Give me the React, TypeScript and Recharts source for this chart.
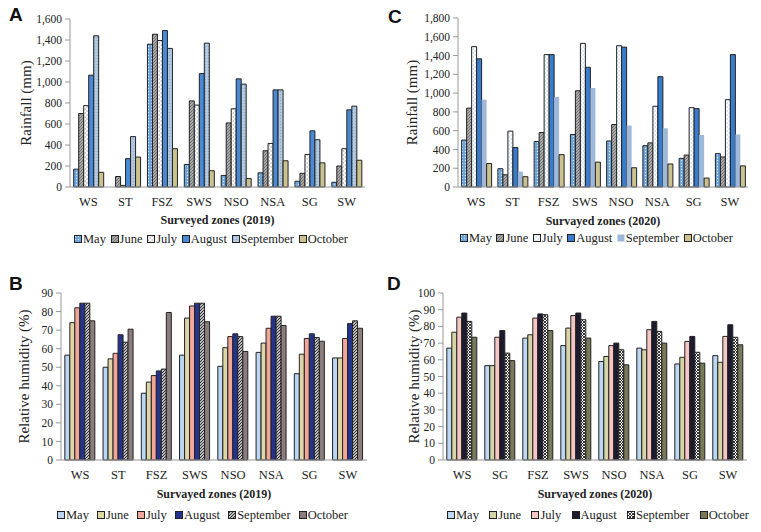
import React from "react";
import { BarChart, Bar, XAxis, YAxis } from "recharts";

const SERIF = "'Liberation Serif', 'Times New Roman', serif";
const SANS = "'Liberation Sans', Arial, sans-serif";

const months = ["May", "June", "July", "August", "September", "October"];
const zones2019 = ["WS", "ST", "FSZ", "SWS", "NSO", "NSA", "SG", "SW"];
const zones2020Rain = ["WS", "ST", "FSZ", "SWS", "NSO", "NSA", "SG", "SW"];
const zones2020Hum = ["WS", "SG", "FSZ", "SWS", "NSO", "NSA", "SG", "SW"];

// A - rainfall 2019 (mm)
const rain2019May = [170, 0, 1360, 215, 110, 135, 55, 45];
const rain2019June = [700, 100, 1455, 820, 610, 345, 130, 200];
const rain2019July = [775, 15, 1395, 780, 745, 415, 310, 365];
const rain2019August = [1065, 270, 1490, 1080, 1030, 925, 535, 735];
const rain2019September = [1440, 480, 1320, 1370, 980, 925, 450, 770];
const rain2019October = [140, 285, 365, 155, 80, 250, 230, 255];

// C - rainfall 2020 (mm)
const rain2020May = [500, 195, 485, 560, 490, 440, 305, 355];
const rain2020June = [840, 130, 580, 1025, 665, 470, 340, 320];
const rain2020July = [1495, 595, 1410, 1530, 1505, 860, 845, 930];
const rain2020August = [1365, 420, 1410, 1275, 1490, 1175, 835, 1410];
const rain2020September = [930, 165, 960, 1055, 655, 625, 555, 560];
const rain2020October = [250, 110, 345, 265, 205, 245, 95, 225];

// B - relative humidity 2019 (%)
const hum2019May = [56.5, 50, 36, 56.5, 50.5, 58, 46.5, 55];
const hum2019June = [74, 54.5, 42, 76.5, 60.5, 63, 57, 55];
const hum2019July = [82, 57.5, 45.5, 83, 66.5, 71, 65.5, 65.5];
const hum2019August = [84.5, 67.5, 48, 84.5, 68, 77.5, 68, 73.5];
const hum2019September = [84.5, 63.5, 49, 84.5, 66.5, 77.5, 66, 75];
const hum2019October = [75, 70.5, 79.5, 74.5, 58.5, 72.5, 64, 71];

// D - relative humidity 2020 (%)
const hum2020May = [67, 56.5, 73, 68.5, 59, 67, 57.5, 62.5];
const hum2020June = [76.5, 56.5, 75, 79, 62, 66, 61.5, 58.5];
const hum2020July = [85.5, 73.5, 85, 86.5, 68.5, 78, 71, 74];
const hum2020August = [88, 77.5, 87.5, 88, 70, 83, 74, 81];
const hum2020September = [83, 64, 87, 84, 66, 77, 64.5, 73.5];
const hum2020October = [73.5, 59.5, 77.5, 73, 57, 70, 58, 69];

const rainTicks2019 = [0, 200, 400, 600, 800, 1000, 1200, 1400, 1600];
const rainTicks2020 = [0, 200, 400, 600, 800, 1000, 1200, 1400, 1600, 1800];
const humTicks2019 = [0, 10, 20, 30, 40, 50, 60, 70, 80, 90];
const humTicks2020 = [0, 10, 20, 30, 40, 50, 60, 70, 80, 90, 100];

function rows(zones: string[], series: number[][]) {
  return zones.map((zone, i) => {
    const r: any = { zone };
    months.forEach((m, k) => (r[m] = series[k][i]));
    return r;
  });
}

type Fill = { id: string; base: string; kind: string; ink?: string; stroke: string };

const fillsA: Fill[] = [
  { id: "aMay", base: "#6aa3de", kind: "dots", ink: "#d8e8f8", stroke: "#222" },
  { id: "aJun", base: "#a5a5a5", kind: "diag", ink: "#6c6c6c", stroke: "#222" },
  { id: "aJul", base: "#ffffff", kind: "dash", ink: "#8e8e8e", stroke: "#222" },
  { id: "aAug", base: "#4a8ad4", kind: "solid", stroke: "#222" },
  { id: "aSep", base: "#b3cae4", kind: "dots", ink: "#8fa9c8", stroke: "#222" },
  { id: "aOct", base: "#cbc292", kind: "solid", stroke: "#222" },
];
const fillsC: Fill[] = [
  { id: "cMay", base: "#6aa3de", kind: "dots", ink: "#d8e8f8", stroke: "#222" },
  { id: "cJun", base: "#a8a8a8", kind: "diag", ink: "#6c6c6c", stroke: "#222" },
  { id: "cJul", base: "#ffffff", kind: "dash", ink: "#9cbce6", stroke: "#222" },
  { id: "cAug", base: "#3a7ccc", kind: "solid", stroke: "#222" },
  { id: "cSep", base: "#9fb7d8", kind: "solid", stroke: "none" },
  { id: "cOct", base: "#cbc292", kind: "solid", stroke: "#222" },
];
const fillsB: Fill[] = [
  { id: "bMay", base: "#bad6f2", kind: "solid", stroke: "#222" },
  { id: "bJun", base: "#ebe4b8", kind: "vert", ink: "#c6bc84", stroke: "#222" },
  { id: "bJul", base: "#f2a599", kind: "solid", stroke: "#222" },
  { id: "bAug", base: "#25348a", kind: "solid", stroke: "#222" },
  { id: "bSep", base: "#ffffff", kind: "stripes", ink: "#222", stroke: "#222" },
  { id: "bOct", base: "#8b7d7e", kind: "solid", stroke: "#222" },
];
const fillsD: Fill[] = [
  { id: "dMay", base: "#bdd8f2", kind: "solid", stroke: "#222" },
  { id: "dJun", base: "#e3e2b8", kind: "vert", ink: "#bdbb86", stroke: "#222" },
  { id: "dJul", base: "#f5c6c2", kind: "solid", stroke: "#222" },
  { id: "dAug", base: "#1d1b2e", kind: "solid", stroke: "#222" },
  { id: "dSep", base: "#ffffff", kind: "check", ink: "#222", stroke: "#222" },
  { id: "dOct", base: "#66664a", kind: "horiz", ink: "#9a9a78", stroke: "#222" },
];

const fillOf = (f: Fill) => (f.kind === "solid" ? f.base : `url(#${f.id})`);

function PatternDef({ f }: { f: Fill }) {
  if (f.kind === "solid") return null;
  const ink = f.ink ?? "#fff";
  let s = 3;
  let inner: any = null;
  if (f.kind === "dots") inner = <circle cx={1.5} cy={1.5} r={0.7} fill={ink} />;
  if (f.kind === "diag")
    inner = <path d="M-1,1 L1,-1 M0,3 L3,0 M2,4 L4,2" stroke={ink} strokeWidth={0.8} />;
  if (f.kind === "dash") {
    s = 4;
    inner = <path d="M0.5,1 H2 M2.5,3 H4" stroke={ink} strokeWidth={0.9} />;
  }
  if (f.kind === "vert") {
    s = 2;
    inner = <path d="M1,0 V2" stroke={ink} strokeWidth={0.7} />;
  }
  if (f.kind === "stripes")
    inner = <path d="M-1,1 L1,-1 M0,3 L3,0 M2,4 L4,2" stroke={ink} strokeWidth={1.1} />;
  if (f.kind === "check")
    inner = <path d="M0,0 L3,3 M3,0 L0,3" stroke={ink} strokeWidth={0.9} />;
  if (f.kind === "horiz") {
    s = 2;
    inner = <path d="M0,1 H2" stroke={ink} strokeWidth={0.7} />;
  }
  return (
    <pattern id={f.id} width={s} height={s} patternUnits="userSpaceOnUse">
      <rect width={s} height={s} fill={f.base} />
      {inner}
    </pattern>
  );
}

function LegendBox({ fills, left, top, width }: { fills: Fill[]; left: number; top: number; width: number }) {
  return (
    <div
      style={{
        position: "absolute",
        left,
        top,
        width,
        display: "flex",
        justifyContent: "space-between",
        alignItems: "center",
        fontFamily: SERIF,
        fontSize: 12.5,
        color: "#222",
        whiteSpace: "nowrap",
        lineHeight: "16px",
      }}
    >
      {months.map((m, i) => (
        <span key={m} style={{ display: "flex", alignItems: "center" }}>
          <svg width={8} height={8} style={{ marginRight: 1 }}>
            <rect
              x={0.5}
              y={0.5}
              width={7}
              height={7}
              fill={fillOf(fills[i])}
              stroke={fills[i].stroke === "none" ? "none" : "#222"}
            />
          </svg>
          {m}
        </span>
      ))}
    </div>
  );
}

type PanelProps = {
  left: number;
  top: number;
  width: number;
  height: number;
  letter: string;
  data: any[];
  fills: Fill[];
  ticks: number[];
  yLabel: string;
  yLabelX: number;
  xTitle: string;
  axisX: number;
  plotTop: number;
  plotBottom: number;
  plotRight: number;
  xAxisHeight: number;
  titleOffset: number;
  legendLeft: number;
  legendTop: number;
  legendWidth: number;
  letterLeft: number;
  letterTop: number;
};

function Panel(p: PanelProps) {
  const max = p.ticks[p.ticks.length - 1];
  return (
    <div
      style={{
        position: "absolute",
        left: p.left,
        top: p.top,
        width: p.width,
        height: p.height,
        fontFamily: SERIF,
      }}
    >
      <BarChart
        width={p.width}
        height={p.height}
        data={p.data}
        barCategoryGap="10%"
        barGap={0}
        style={{ fontFamily: SERIF }}
        margin={{
          top: p.plotTop,
          right: p.width - p.plotRight,
          left: 0,
          bottom: p.height - p.plotBottom - p.xAxisHeight,
        }}
      >
        <defs>
          {p.fills.map((f) => (
            <PatternDef key={f.id} f={f} />
          ))}
        </defs>
        <XAxis
          dataKey="zone"
          height={p.xAxisHeight}
          interval={0}
          tickLine={false}
          tickMargin={4}
          axisLine={{ stroke: "#999" }}
          tick={{ fontSize: 12.5, fill: "#222", fontFamily: SERIF }}
          label={{
            value: p.xTitle,
            position: "insideBottom",
            offset: p.titleOffset,
            fontSize: 12,
            fontWeight: "bold",
            fill: "#222",
            fontFamily: SERIF,
          }}
        />
        <YAxis
          width={p.axisX}
          domain={[0, max]}
          ticks={p.ticks}
          interval={0}
          tickSize={5}
          tickMargin={3}
          axisLine={{ stroke: "#999" }}
          tickLine={{ stroke: "#999" }}
          tick={{ fontSize: 11.5, fill: "#222", fontFamily: SERIF }}
          tickFormatter={(v: number) => v.toLocaleString("en-US")}
          label={{
            value: p.yLabel,
            angle: -90,
            position: "insideLeft",
            offset: p.yLabelX,
            fontSize: 15,
            fill: "#222",
            fontFamily: SERIF,
            style: { textAnchor: "middle", fontFamily: SERIF },
          }}
        />
        {months.map((m, i) => (
          <Bar
            key={m}
            dataKey={m}
            fill={fillOf(p.fills[i])}
            stroke={p.fills[i].stroke}
            strokeWidth={p.fills[i].stroke === "none" ? 0 : 1}
            isAnimationActive={false}
          />
        ))}
      </BarChart>
      <LegendBox fills={p.fills} left={p.legendLeft} top={p.legendTop} width={p.legendWidth} />
      <div
        style={{
          position: "absolute",
          left: p.letterLeft,
          top: p.letterTop,
          fontFamily: SANS,
          fontWeight: "bold",
          fontSize: 19,
          lineHeight: 1,
          color: "#111",
        }}
      >
        {p.letter}
      </div>
    </div>
  );
}

export default function App() {
  const dataA = rows(zones2019, [
    rain2019May, rain2019June, rain2019July, rain2019August, rain2019September, rain2019October,
  ]);
  const dataC = rows(zones2020Rain, [
    rain2020May, rain2020June, rain2020July, rain2020August, rain2020September, rain2020October,
  ]);
  const dataB = rows(zones2019, [
    hum2019May, hum2019June, hum2019July, hum2019August, hum2019September, hum2019October,
  ]);
  const dataD = rows(zones2020Hum, [
    hum2020May, hum2020June, hum2020July, hum2020August, hum2020September, hum2020October,
  ]);

  return (
    <div style={{ position: "absolute", left: 0, top: 0, width: 761, height: 532, background: "#fff" }}>
      <Panel
        left={0} top={0} width={380} height={262} letter="A"
        data={dataA} fills={fillsA} ticks={rainTicks2019}
        yLabel="Rainfall (mm)" yLabelX={26} xTitle="Surveyed zones (2019)"
        axisX={70} plotTop={19} plotBottom={187} plotRight={365}
        xAxisHeight={43} titleOffset={6}
        legendLeft={74} legendTop={231} legendWidth={274}
        letterLeft={9} letterTop={5}
      />
      <Panel
        left={380} top={0} width={381} height={262} letter="C"
        data={dataC} fills={fillsC} ticks={rainTicks2020}
        yLabel="Rainfall (mm)" yLabelX={32} xTitle="Survayed zones (2020)"
        axisX={78} plotTop={18} plotBottom={187} plotRight={368}
        xAxisHeight={43} titleOffset={5}
        legendLeft={80} legendTop={230} legendWidth={273}
        letterLeft={8} letterTop={7}
      />
      <Panel
        left={0} top={265} width={380} height={267} letter="B"
        data={dataB} fills={fillsB} ticks={humTicks2019}
        yLabel="Relative humidity (%)" yLabelX={24} xTitle="Survayed zones (2019)"
        axisX={61} plotTop={28} plotBottom={195} plotRight={367}
        xAxisHeight={45} titleOffset={7}
        legendLeft={57} legendTop={242} legendWidth={291}
        letterLeft={9} letterTop={9}
      />
      <Panel
        left={380} top={265} width={381} height={267} letter="D"
        data={dataD} fills={fillsD} ticks={humTicks2020}
        yLabel="Relative humidity (%)" yLabelX={34} xTitle="Survayed zones (2020)"
        axisX={63} plotTop={28} plotBottom={195} plotRight={367}
        xAxisHeight={45} titleOffset={7}
        legendLeft={67} legendTop={242} legendWidth={302}
        letterLeft={7} letterTop={9}
      />
    </div>
  );
}
